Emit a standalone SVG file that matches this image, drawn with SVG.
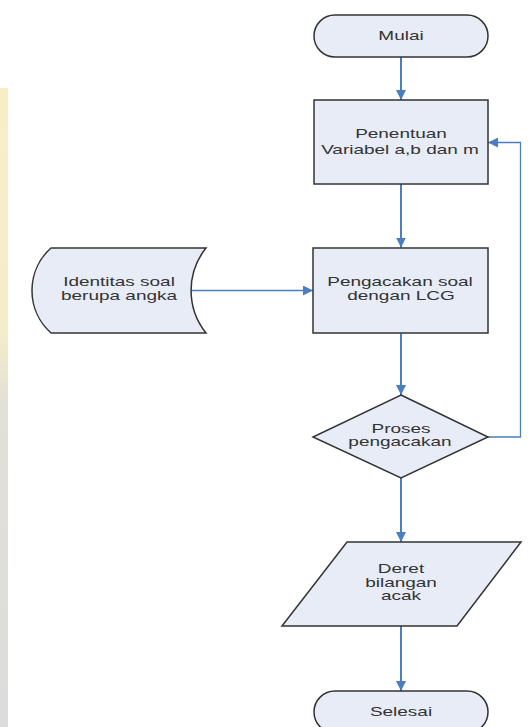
<svg xmlns="http://www.w3.org/2000/svg" width="532" height="727" viewBox="0 0 532 727">
  <defs>
    <marker id="ah" markerUnits="userSpaceOnUse" markerWidth="10" markerHeight="10" refX="10" refY="5" orient="auto">
      <path d="M0,0 L10,5 L0,10 z" fill="#4a7ebf"/>
    </marker>
    <linearGradient id="strip" x1="0" y1="0" x2="0" y2="1">
      <stop offset="0" stop-color="#f6efc6"/>
      <stop offset="0.38" stop-color="#f4edc9"/>
      <stop offset="0.5" stop-color="#e2e0d8"/>
      <stop offset="1" stop-color="#dcdcdc"/>
    </linearGradient>
  </defs>
  <style>
    .shape { fill: #e7ecf7; stroke: #333333; stroke-width: 1.5; }
    .lbl { font-family: "Liberation Sans", Arial, sans-serif; font-size: 13px; fill: #333333; text-anchor: middle; }
    .conn { fill: none; stroke: #4a7ebf; stroke-width: 2; }
    .thin { fill: none; stroke: #4a7ebf; stroke-width: 1.3; }
  </style>

  <rect x="0" y="88" width="8" height="639" fill="url(#strip)"/>

  <g id="connectors">
    <line class="conn" x1="401" y1="57" x2="401" y2="100" marker-end="url(#ah)"/>
    <line class="conn" x1="401" y1="184" x2="401" y2="247.5" marker-end="url(#ah)"/>
    <line class="thin" x1="191" y1="290.5" x2="313" y2="290.5" marker-end="url(#ah)"/>
    <line class="conn" x1="401" y1="333.5" x2="401" y2="395" marker-end="url(#ah)"/>
    <polyline class="thin" points="488,437 520.5,437 520.5,142.5 488,142.5" marker-end="url(#ah)"/>
    <line class="conn" x1="401" y1="478" x2="401" y2="542" marker-end="url(#ah)"/>
    <line class="conn" x1="401" y1="626" x2="401" y2="691" marker-end="url(#ah)"/>
  </g>

  <g id="mulai">
    <rect class="shape" x="314" y="15" width="174" height="42" rx="21" ry="21"/>
    <text class="lbl" transform="translate(401,40) scale(1.46,1)">Mulai</text>
  </g>

  <g id="penentuan">
    <rect class="shape" x="314" y="100" width="174" height="84"/>
    <text class="lbl" transform="translate(401,138) scale(1.46,1)">Penentuan</text>
    <text class="lbl" transform="translate(400,154) scale(1.46,1)">Variabel a,b dan m</text>
  </g>

  <g id="identitas">
    <path class="shape" d="M51,248 L206,248 A68,68 0 0 0 206,333 L51,333 A57,57 0 0 1 51,248 Z"/>
    <text class="lbl" transform="translate(119,286) scale(1.46,1)">Identitas soal</text>
    <text class="lbl" transform="translate(119,300) scale(1.46,1)">berupa angka</text>
  </g>

  <g id="pengacakan">
    <rect class="shape" x="313" y="248" width="175" height="85"/>
    <text class="lbl" transform="translate(400,286) scale(1.46,1)">Pengacakan soal</text>
    <text class="lbl" transform="translate(401,300) scale(1.46,1)">dengan LCG</text>
  </g>

  <g id="proses">
    <polygon class="shape" points="401,395 488,437 401,478 313,437"/>
    <text class="lbl" transform="translate(401,433) scale(1.46,1)">Proses</text>
    <text class="lbl" transform="translate(400,446) scale(1.46,1)">pengacakan</text>
  </g>

  <g id="deret">
    <polygon class="shape" points="347,542 521,542 457,626 282,626"/>
    <text class="lbl" transform="translate(401,573) scale(1.46,1)">Deret</text>
    <text class="lbl" transform="translate(401,587) scale(1.46,1)">bilangan</text>
    <text class="lbl" transform="translate(401,600) scale(1.46,1)">acak</text>
  </g>

  <g id="selesai">
    <rect class="shape" x="314" y="691" width="174" height="42" rx="21" ry="21"/>
    <text class="lbl" transform="translate(401,716) scale(1.46,1)">Selesai</text>
  </g>
</svg>
